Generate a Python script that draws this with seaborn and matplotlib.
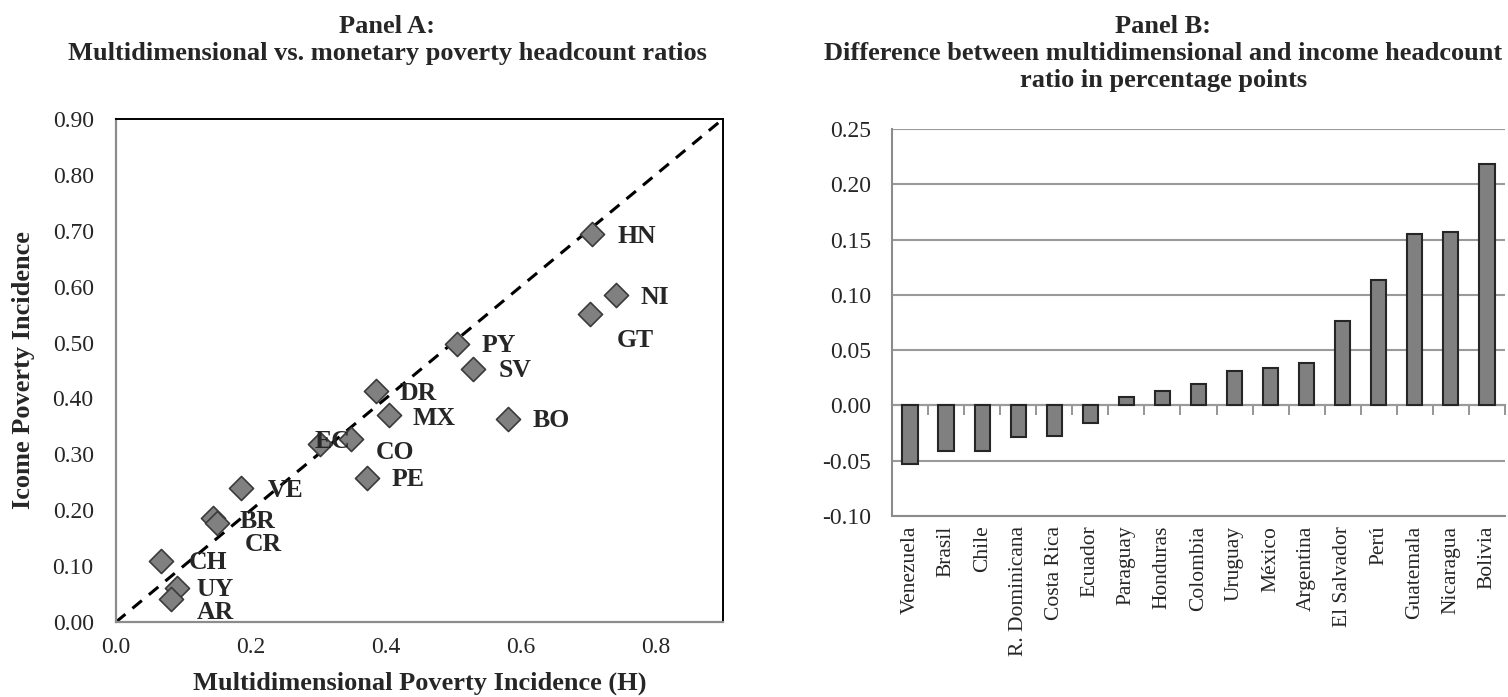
import matplotlib
matplotlib.use("Agg")
import matplotlib.pyplot as plt
import pandas as pd
import seaborn as sns

# Panel A: headcount ratios by country (multidimensional H vs. income)
codes = ["HN", "NI", "GT", "PY", "SV", "DR", "MX", "BO", "EC", "CO",
         "PE", "VE", "BR", "CR", "CH", "UY", "AR"]
mpi_h = [0.706, 0.741, 0.703, 0.505, 0.530, 0.385, 0.405, 0.581, 0.303, 0.348,
         0.372, 0.185, 0.144, 0.150, 0.0675, 0.090, 0.081]
income_h = [0.694, 0.585, 0.551, 0.497, 0.453, 0.413, 0.371, 0.363, 0.318, 0.328,
            0.258, 0.239, 0.186, 0.178, 0.110, 0.060, 0.042]

# Panel B: difference between multidimensional and income headcount ratio
countries = ["Venezuela", "Brasil", "Chile", "R. Dominicana", "Costa Rica", "Ecuador",
             "Paraguay", "Honduras", "Colombia", "Uruguay", "México", "Argentina",
             "El Salvador", "Perú", "Guatemala", "Nicaragua", "Bolivia"]
gap = [-0.053, -0.041, -0.041, -0.029, -0.028, -0.016, 0.008, 0.013, 0.019,
       0.031, 0.034, 0.038, 0.076, 0.113, 0.155, 0.157, 0.218]

# label offsets (points) for the country codes in panel A
label_dx = [18, 18, 19, 18, 18, 17.5, 17, 18, -4, 18, 18, 19.5, 19, 20, 19.5, 14.5, 18.5]
label_dy = [-2, -1.5, -19, -1, -1.5, -1.5, -2.5, -1, 2, -10, -1.5, -1.5, -2.5, -15.5, -1.3, -0.5, -10]

sns.set_style("white")
plt.rcParams["font.family"] = ["Liberation Serif", "DejaVu Serif"]
plt.rcParams["axes.unicode_minus"] = False

AXIS_GREY = "#8c8c8c"
FILL = "#808080"
TICK_FS = 17
TITLE_FS = 19

fig = plt.figure(figsize=(15.08, 6.97), dpi=100)

# ---------------- Panel A ----------------
ax1 = fig.add_axes([0.0769, 0.1076, 0.4025, 0.7217])
df_a = pd.DataFrame({"code": codes, "H": mpi_h, "income": income_h})

ax1.plot([0, 0.9], [0, 0.9], color="black", linestyle=(0, (4, 3)), linewidth=2.2, zorder=1)
sns.scatterplot(data=df_a, x="H", y="income", marker="D", s=150, color=FILL,
                edgecolor="#3a3a3a", linewidth=1.2, ax=ax1, zorder=3, legend=False)
for c, x, y, dx, dy in zip(codes, mpi_h, income_h, label_dx, label_dy):
    ax1.annotate(c, (x, y), xytext=(dx, dy), textcoords="offset points",
                 ha="left", va="center", fontsize=18.5, fontweight="bold", zorder=4)

ax1.set_xlim(0, 0.9)
ax1.set_ylim(0, 0.9)
ax1.set_xticks([0.0, 0.2, 0.4, 0.6, 0.8])
ax1.set_xticklabels([f"{v:.1f}" for v in [0.0, 0.2, 0.4, 0.6, 0.8]])
yt = [i / 10 for i in range(10)]
ax1.set_yticks(yt)
ax1.set_yticklabels([f"{v:.2f}" for v in yt])
ax1.tick_params(axis="y", direction="out", length=6, width=1.3,
                color=AXIS_GREY, labelsize=TICK_FS, pad=10)
ax1.tick_params(axis="x", direction="out", length=6, width=1.3,
                color=AXIS_GREY, labelsize=TICK_FS, pad=5)
for side in ["left", "bottom"]:
    ax1.spines[side].set_color(AXIS_GREY)
    ax1.spines[side].set_linewidth(1.6)
for side in ["top", "right"]:
    ax1.spines[side].set_color("black")
    ax1.spines[side].set_linewidth(1.4)
ax1.set_xlabel("Multidimensional Poverty Incidence (H)", fontsize=TITLE_FS,
               fontweight="bold", va="center")
ax1.xaxis.set_label_coords(0.5, -0.122)
ax1.set_ylabel("Icome Poverty Incidence", fontsize=TITLE_FS, fontweight="bold", va="center")
ax1.yaxis.set_label_coords(-0.153, 0.5)

fig.text(0.2567, 0.978, "Panel A:\nMultidimensional vs. monetary poverty headcount ratios",
         ha="center", va="top", fontsize=TITLE_FS, fontweight="bold", linespacing=1.22)

# ---------------- Panel B ----------------
ax2 = fig.add_axes([0.5915, 0.2597, 0.4065, 0.5552])
df_b = pd.DataFrame({"country": countries, "gap": gap})
sns.barplot(data=df_b, x="country", y="gap", color=FILL, saturation=1, width=0.42,
            edgecolor="#262626", linewidth=1.5, ax=ax2, zorder=3)

ax2.set_ylim(-0.10, 0.25)
ax2.set_xlim(-0.5, len(countries) - 0.5)
yt2 = [-0.10, -0.05, 0.0, 0.05, 0.10, 0.15, 0.20, 0.25]
ax2.set_yticks(yt2)
ax2.set_yticklabels([f"{v:.2f}" for v in yt2])
ax2.grid(axis="y", color="#9a9a9a", linewidth=1.5, zorder=0)
ax2.set_axisbelow(True)
ax2.tick_params(axis="y", direction="out", length=7, width=1.3, color=AXIS_GREY,
                labelsize=TICK_FS, pad=8)
ax2.tick_params(axis="x", length=0, labelsize=15.5, labelrotation=90, pad=7)
for lab in ax2.get_xticklabels():
    lab.set_va("top")
for side in ["top", "right"]:
    ax2.spines[side].set_visible(False)
for side in ["left", "bottom"]:
    ax2.spines[side].set_color(AXIS_GREY)
    ax2.spines[side].set_linewidth(1.5)
ax2.set_xlabel("")
ax2.set_ylabel("")

# category axis line at zero with boundary ticks
zero_ax = ax2.secondary_xaxis(0, transform=ax2.transData)
zero_ax.set_xticks([i - 0.5 for i in range(1, len(countries) + 1)])
zero_ax.set_xticklabels([])
zero_ax.tick_params(direction="out", length=7, width=1.3, color=AXIS_GREY)
zero_ax.spines["bottom"].set_color(AXIS_GREY)
zero_ax.spines["bottom"].set_linewidth(1.5)

fig.text(0.7714, 0.978,
         "Panel B:\nDifference between multidimensional and income headcount\nratio in percentage points",
         ha="center", va="top", fontsize=TITLE_FS, fontweight="bold", linespacing=1.22)

fig.savefig("out.png", dpi=100)
